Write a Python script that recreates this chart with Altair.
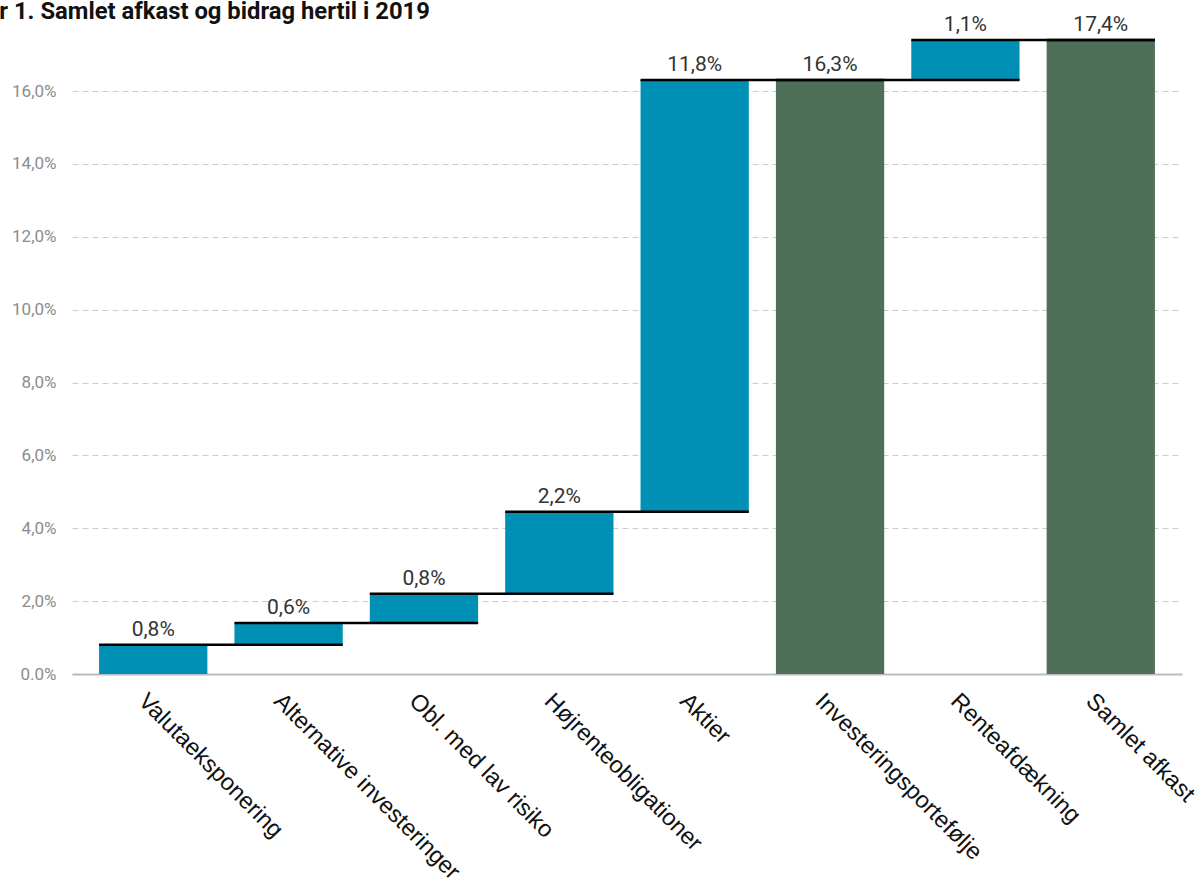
import altair as alt
import pandas as pd

title_text = "Figur 1. Samlet afkast og bidrag hertil i 2019"
categories = ["Valutaeksponering", "Alternative investeringer", "Obl. med lav risiko",
              "Højrenteobligationer", "Aktier", "Investeringsportefølje",
              "Renteafdækning", "Samlet afkast"]
starts = [0.0, 0.8, 1.4, 2.2, 4.45, 0.0, 16.3, 0.0]
ends = [0.8, 1.4, 2.2, 4.45, 16.3, 16.3, 17.4, 17.4]
labels = ["0,8%", "0,6%", "0,8%", "2,2%", "11,8%", "16,3%", "1,1%", "17,4%"]
kinds = ["bidrag", "bidrag", "bidrag", "bidrag", "bidrag", "total", "bidrag", "total"]

df = pd.DataFrame({
    "cat": categories,
    "start": starts,
    "end": ends,
    "label": labels,
    "kind": kinds,
    "next": categories[1:] + categories[-1:],
})

xscale = alt.Scale(domain=categories, paddingInner=0.2, paddingOuter=0.2)
yscale = alt.Scale(domain=[0, 17.4], nice=False, zero=True)

base = alt.Chart(df)

bars = base.mark_bar().encode(
    x=alt.X("cat:N", scale=xscale, sort=categories, title=None,
            axis=alt.Axis(labelAngle=45, labelAlign="left", labelBaseline="middle",
                          labelFont="Liberation Sans", labelFontSize=23.5, labelColor="#111",
                          labelPadding=23, labelOffset=-11, ticks=False, domain=True,
                          domainColor="#bbbbbb", domainWidth=2, labelLimit=400)),
    y=alt.Y("start:Q", scale=yscale, title=None,
            axis=alt.Axis(values=[0, 2, 4, 6, 8, 10, 12, 14, 16],
                          labelExpr="datum.value == 0 ? '0.0%' : replace(format(datum.value, '.1f'), '.', ',') + '%'",
                          labelFont="Roboto", labelFontSize=17, labelColor="#8c8c8c",
                          labelPadding=16, ticks=False, domain=False,
                          grid=True, gridDash=[6, 4], gridColor="#cccccc", gridWidth=1)),
    y2="end:Q",
    color=alt.Color("kind:N", scale=alt.Scale(domain=["bidrag", "total"],
                                              range=["#008fb5", "#4e7058"]), legend=None),
)

connectors = base.mark_rule(color="black", strokeWidth=2.5).encode(
    x=alt.X("cat:N", scale=xscale, sort=categories, bandPosition=0),
    x2=alt.X2("next:N", bandPosition=1),
    y=alt.Y("end:Q", scale=yscale),
)

texts = base.mark_text(font="Roboto", fontSize=21, color="#333333", dy=-15,
                       baseline="middle").encode(
    x=alt.X("cat:N", scale=xscale, sort=categories),
    y=alt.Y("end:Q", scale=yscale),
    text="label:N",
)

title = alt.Chart(pd.DataFrame({"t": [title_text]})).mark_text(
    font="Roboto", fontSize=23.8, fontWeight="bold", color="#111111",
    align="left", baseline="alphabetic",
).encode(x=alt.value(-119), y=alt.value(-21), text="t:N")

chart = alt.layer(bars, connectors, texts, title).properties(
    width=1110, height=634,
    autosize=alt.AutoSizeParams(type="none"),
    padding={"left": 72, "top": 40, "right": 16, "bottom": 208},
).configure_view(stroke=None).configure_axisX(gridOpacity=0)

chart.save("out.html", embed_options={"renderer": "svg", "actions": False})
